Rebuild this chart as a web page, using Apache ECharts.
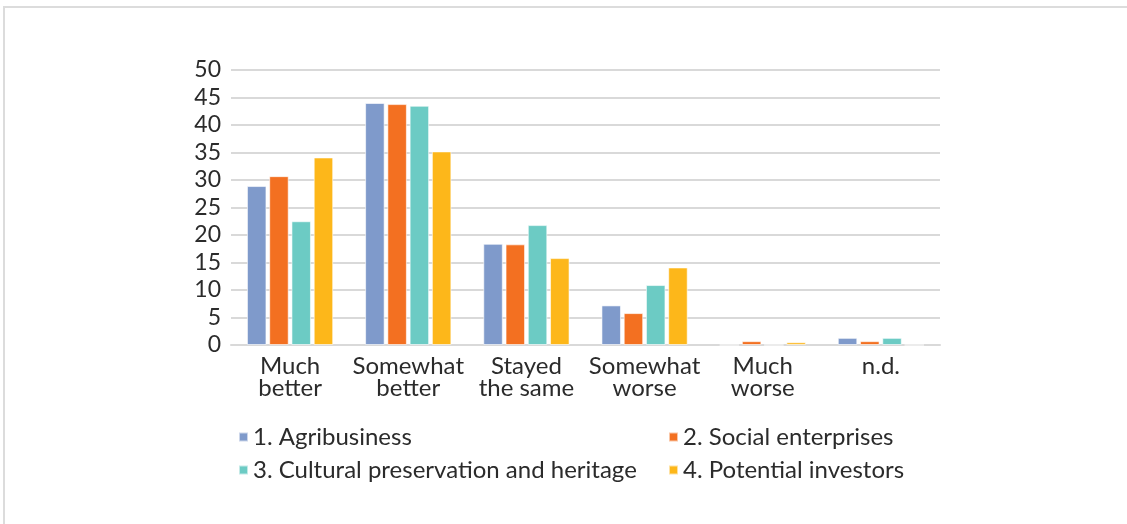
<!DOCTYPE html>
<html>
<head>
<meta charset="utf-8">
<script src="https://cdn.jsdelivr.net/npm/echarts@6/dist/echarts.min.js"></script>
<style>
html,body{margin:0;padding:0;background:#fff;}
#frame{position:absolute;left:3px;top:6px;width:1124px;height:518px;border-top:2px solid #dcdcdc;border-left:2px solid #dcdcdc;box-sizing:border-box;}
#chart{position:absolute;left:0;top:0;width:1127px;height:524px;}
</style>
</head>
<body>
<div id="frame"></div>
<div id="chart"></div>
<script>
const categories = ['Much\nbetter', 'Somewhat\nbetter', 'Stayed\nthe same', 'Somewhat\nworse', 'Much\nworse', 'n.d.'];
const seriesNames = ['1. Agribusiness', '2. Social enterprises', '3. Cultural preservation and heritage', '4. Potential investors'];
const agribusiness = [28.9, 44.0, 18.4, 7.2, 0, 1.3];
const socialEnterprises = [30.7, 43.8, 18.3, 5.8, 0.7, 0.7];
const culturalHeritage = [22.5, 43.5, 21.8, 10.9, 0, 1.3];
const potentialInvestors = [34.1, 35.2, 15.8, 14.1, 0.5, 0];
const colors = ['#7F9ACB', '#F37021', '#6CCBC4', '#FDB71A'];

const chart = echarts.init(document.getElementById('chart'));
const FONT = 'Lato';
const dataSets = [agribusiness, socialEnterprises, culturalHeritage, potentialInvestors];
const legendText = {fontSize: 24, color: '#2b2b2b', fontFamily: FONT, lineHeight: 24};
chart.setOption({
  animation: false,
  color: colors,
  textStyle: {fontFamily: FONT},
  grid: {left: 231, right: 187, top: 70, bottom: 179, containLabel: false},
  legend: [
    {data: [seriesNames[0], seriesNames[2]], orient: 'vertical', left: 238, top: 425, padding: 0, icon: 'rect', itemWidth: 9, itemHeight: 9, itemGap: 9, textStyle: legendText},
    {data: [seriesNames[1], seriesNames[3]], orient: 'vertical', left: 668, top: 425, padding: 0, icon: 'rect', itemWidth: 9, itemHeight: 9, itemGap: 9, textStyle: legendText}
  ],
  xAxis: {
    type: 'category', data: categories,
    axisLine: {lineStyle: {color: '#d9d9d9', width: 2}},
    axisTick: {show: false},
    axisLabel: {fontSize: 24, color: '#2b2b2b', fontFamily: FONT, lineHeight: 22, margin: 10, interval: 0}
  },
  yAxis: {
    type: 'value', min: 0, max: 50, interval: 5,
    axisLine: {show: false}, axisTick: {show: false},
    splitLine: {lineStyle: {color: '#d9d9d9', width: 2}},
    axisLabel: {fontSize: 23, color: '#2b2b2b', fontFamily: FONT, margin: 10}
  },
  series: dataSets.map((d, i) => ({
    name: seriesNames[i], type: 'bar', data: d,
    barGap: '14%', barCategoryGap: '27%',
    itemStyle: {color: colors[i], borderColor: 'rgba(255,255,255,0.6)', borderWidth: 1}
  }))
});
</script>
</body>
</html>
